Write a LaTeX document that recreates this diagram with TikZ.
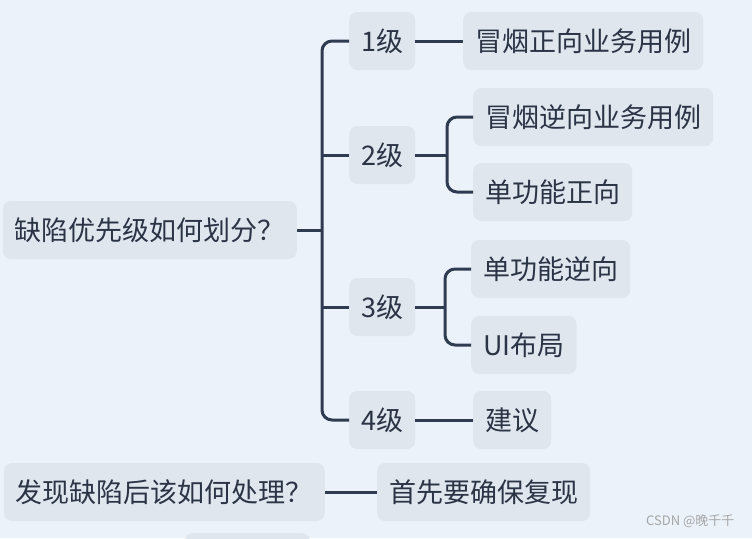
\documentclass[tikz,border=0pt]{standalone}
\usepackage{fontspec}
\setmainfont{Noto Sans CJK SC}
\begin{document}
\begin{tikzpicture}[x=1pt,y=-1pt,
  box/.style={fill=boxc,rounded corners=8pt,minimum height=58pt,inner xsep=12pt,font=\fontsize{27}{30}\selectfont,text=txt,anchor=west},
  con/.style={draw=linec,line width=3pt,rounded corners=10pt}]
\definecolor{bg}{HTML}{EBF2FA}
\definecolor{boxc}{HTML}{DFE6EE}
\definecolor{linec}{HTML}{2F3B50}
\definecolor{txt}{HTML}{2B3445}
\useasboundingbox[fill=bg] (0,0) rectangle (752,538);
\node[box,anchor=east] (root) at (297,230) {缺陷优先级如何划分？};
\node[box] (l1) at (349,41) {1级};
\node[box] (a1) at (463,41) {冒烟正向业务用例};
\node[box] (l2) at (349,155) {2级};
\node[box] (b1) at (473,117) {冒烟逆向业务用例};
\node[box] (b2) at (473,192) {单功能正向};
\node[box] (l3) at (349,307) {3级};
\node[box] (c1) at (471,269) {单功能逆向};
\node[box] (c2) at (471,345) {UI布局};
\node[box] (l4) at (349,420) {4级};
\node[box] (d1) at (473,420) {建议};
\node[box,anchor=east] (q2) at (325,492) {发现缺陷后该如何处理？};
\node[box] (r2) at (377,492) {首先要确保复现};
\fill[boxc,rounded corners=8pt] (185,533) rectangle (310,560);
\coordinate (b) at (322,230);
\draw[con] (root.east) -- (b);
\draw[con] (l1.west) -| (b) |- (l4.west);
\draw[con] (b |- l2.west) -- (l2.west);
\draw[con] (b |- l3.west) -- (l3.west);
\draw[con] (l1.east) -- (a1.west);
\coordinate (b2p) at (447,155);
\draw[con] (l2.east) -- (b2p);
\draw[con] (b1.west) -| (b2p) |- (b2.west);
\coordinate (b3p) at (445,307);
\draw[con] (l3.east) -- (b3p);
\draw[con] (c1.west) -| (b3p) |- (c2.west);
\draw[con] (l4.east) -- (d1.west);
\draw[con] (q2.east) -- (r2.west);
\node[font=\fontsize{13}{15}\selectfont,text=gray!70,anchor=east] (wm) at (738,521) {CSDN @晚千千};
\end{tikzpicture}
\end{document}
